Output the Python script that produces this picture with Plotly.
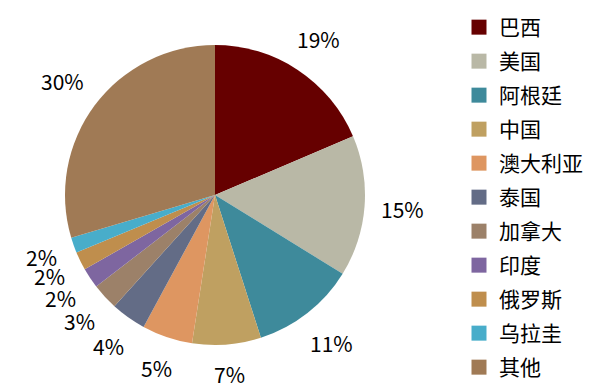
import math
import plotly.graph_objects as go

labels = ["巴西", "美国", "阿根廷", "中国", "澳大利亚", "泰国", "加拿大", "印度", "俄罗斯", "乌拉圭", "其他"]
values = [18.6, 15.2, 11.25, 7.4, 5.45, 3.8, 2.85, 2.2, 2.0, 1.65, 29.6]
colors = ["#660000", "#B9B8A6", "#3E8A9B", "#BFA061", "#DE9661", "#636C86", "#9C8169",
          "#7E66A0", "#BF8E4D", "#48ADCA", "#A07A55"]

FONT = "Noto Sans CJK SC"
W, H = 609, 390
# pie placement (pixels)
CX, CY, R = 215, 195, 150
LABEL_SIZE = 21

fig = go.Figure()
fig.add_trace(go.Pie(
    labels=labels, values=values, sort=False, direction="clockwise", rotation=0,
    marker=dict(colors=colors, line=dict(width=0)),
    textinfo="none",
    showlegend=False,
    domain=dict(x=[(CX - R) / W, (CX + R) / W], y=[1 - (CY + R) / H, 1 - (CY - R) / H]),
    hoverinfo="label+percent",
))
for lab, col in zip(labels, colors):
    fig.add_trace(go.Scatter(
        x=[None], y=[None], mode="markers", name=lab, legendgroup=lab,
        marker=dict(symbol="square", size=15, color=col),
    ))

# percentage labels placed outside each slice, derived from the values
total = sum(values)
cum = 0.0
annotations = []
for v in values:
    mid = (cum + v / 2) / total * 2 * math.pi
    cum += v
    txt = f"{round(v / total * 100)}%"
    half_w = 0.5 * ((len(txt) - 1) * 0.572 + 0.847) * LABEL_SIZE
    half_h = 12
    dx, dy = math.sin(mid), -math.cos(mid)
    r = R + 16 + half_w * abs(dx) + half_h * abs(dy)
    px, py = CX + dx * r, CY + dy * r
    annotations.append(dict(
        x=px / W, y=1 - py / H, xref="paper", yref="paper",
        text=txt, showarrow=False,
        xanchor="center", yanchor="middle",
        font=dict(size=LABEL_SIZE, family=FONT, color="#000000"),
    ))

fig.update_layout(
    width=W, height=H, margin=dict(l=0, r=0, t=0, b=0, pad=0, autoexpand=False),
    paper_bgcolor="white", plot_bgcolor="white",
    xaxis=dict(visible=False), yaxis=dict(visible=False),
    showlegend=True,
    legend=dict(x=459 / W, xanchor="left", y=1 - 7 / H, yanchor="top",
                font=dict(size=21, family=FONT, color="#000000"),
                itemsizing="trace", tracegroupgap=3.7, bgcolor="rgba(0,0,0,0)"),
    annotations=annotations,
    font=dict(family=FONT),
)
fig.write_html("out.html", config={"displayModeBar": False},
               post_script="document.body.style.margin='0';")
